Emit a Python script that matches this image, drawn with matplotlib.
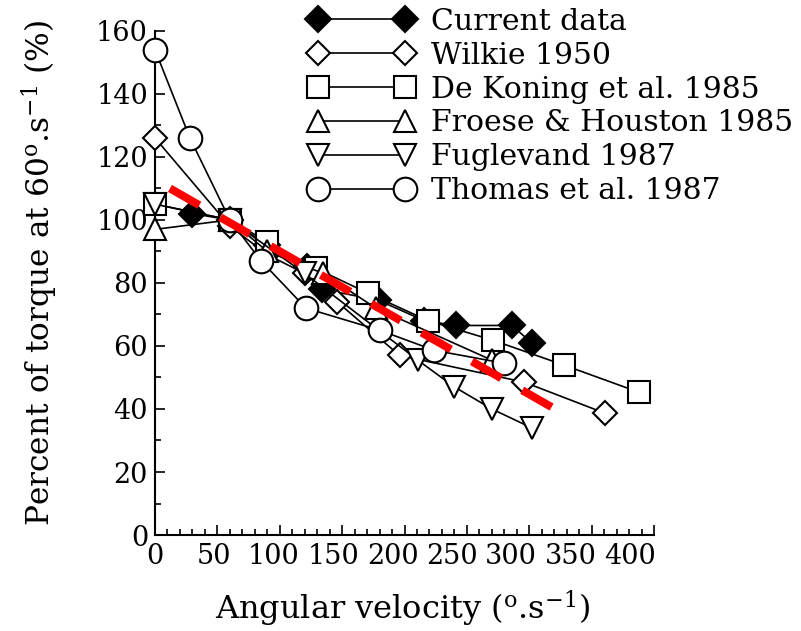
import matplotlib
matplotlib.use("Agg")
import matplotlib.pyplot as plt
from matplotlib.transforms import ScaledTranslation

plt.rcParams['font.family'] = ['DejaVu Serif']
plt.rcParams['mathtext.fontset'] = 'dejavuserif'

# Angular velocity (deg/s) and torque relative to 60 deg/s (%)
current_x = [30, 60, 90, 122, 134, 179, 216, 241, 286, 302]
current_y = [102, 100, 92, 85, 78, 74.5, 68, 66.5, 66.5, 61]

wilkie_x = [0, 60, 90, 120, 146, 196, 296, 361]
wilkie_y = [126, 98, 89, 83, 74, 57, 48.5, 38.6]

dekoning_x = [0, 60, 90, 129, 171, 219, 271, 328, 388]
dekoning_y = [105, 100, 93, 84.6, 76.7, 68, 61.8, 53.9, 45.3]

froese_x = [0, 60, 90, 135, 177, 270]
froese_y = [97, 100, 90, 83, 72, 55.5]

fuglevand_x = [0, 60, 120, 211, 240, 270, 302]
fuglevand_y = [105, 100, 83, 55.4, 47, 40, 34]

thomas_x = [0, 28, 60, 85, 121, 180, 224, 280]
thomas_y = [154, 126, 100, 87, 72, 65, 58.6, 54.5]

# Linear trend through the pooled data
fit_x = [12, 332]
fit_y = [110.0, 37.4]

x_ticks = list(range(0, 401, 50))
y_ticks = list(range(0, 161, 20))

series = [
    ("Current data", current_x, current_y, 'D', 'black', 13),
    ("Wilkie 1950", wilkie_x, wilkie_y, 'D', 'white', 12),
    ("De Koning et al. 1985", dekoning_x, dekoning_y, 's', 'white', 16),
    ("Froese & Houston 1985", froese_x, froese_y, '^', 'white', 16),
    ("Fuglevand 1987", fuglevand_x, fuglevand_y, 'v', 'white', 16),
    ("Thomas et al. 1987", thomas_x, thomas_y, 'o', 'white', 17),
]

fig = plt.figure(figsize=(8.01, 6.31), dpi=100)
ax = fig.add_axes([0.1935, 0.1521, 0.623, 0.7990])

handles = []
for label, xs, ys, mk, fc, ms in series:
    h, = ax.plot(xs, ys, color='black', lw=1.2, marker=mk, ms=ms,
                 mfc=fc, mec='black', mew=1.5, label=label, clip_on=False,
                 zorder=3)
    handles.append(h)

ax.plot(fit_x, fit_y, color='#ff0000', lw=5.8, ls=(0, (4.2, 3.0)),
        solid_capstyle='butt', dash_capstyle='butt', zorder=5)

ax.set_xlim(0, 400)
ax.set_ylim(0, 160)
ax.set_xticks(x_ticks)
ax.set_yticks(y_ticks)
ax.set_xticklabels([str(v) for v in x_ticks])
ax.set_yticklabels([str(v) for v in y_ticks])
ax.set_xticks(range(0, 401, 10), minor=True)
ax.set_yticks(range(0, 161, 10), minor=True)
ax.tick_params(which='both', direction='in', labelsize=19.5, width=1.2)
ax.tick_params(axis='x', which='major', length=7, pad=6)
ax.tick_params(axis='y', which='major', length=7, pad=5)
ax.tick_params(which='minor', length=4)
for s in ('top', 'right'):
    ax.spines[s].set_visible(False)
for s in ('left', 'bottom'):
    ax.spines[s].set_linewidth(1.5)

# the velocity labels sit slightly left of their ticks, increasingly so
for v, lab in zip(x_ticks, ax.get_xticklabels()):
    dx = -0.06 * v
    lab.set_transform(lab.get_transform() +
                      ScaledTranslation(dx / 100, 0, fig.dpi_scale_trans))

ax.set_xlabel(r'Angular velocity ($^{\rm o}$.s$^{-1}$)', fontsize=23)
ax.set_ylabel(r'Percent of torque at 60$^{\rm o}$.s$^{-1}$ (%)', fontsize=22.5)
ax.xaxis.set_label_coords(0.497, -0.106)
ax.yaxis.set_label_coords(-0.19, 0.52)

fig.legend(handles=handles, loc='upper left', bbox_to_anchor=(0.3858, 0.988),
           frameon=False, fontsize=21.5, numpoints=2, handlelength=3.5,
           handletextpad=0.6, labelspacing=0.2, borderpad=0,
           borderaxespad=0)

fig.savefig('out.png', dpi=100)
